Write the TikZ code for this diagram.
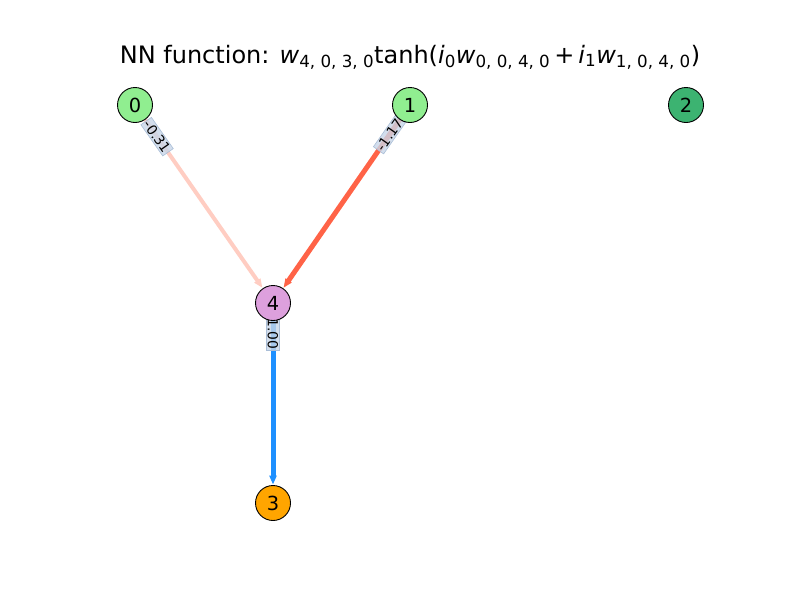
\documentclass[tikz,border=0pt]{standalone}
\usepackage{fontspec}
\setmainfont{DejaVu Sans}
\usetikzlibrary{arrows.meta,calc}
\pgfdeclarelayer{bg}
\pgfsetlayers{bg,main}
\definecolor{lgreen}{HTML}{90EE90}
\definecolor{sgreen}{HTML}{3CB371}
\definecolor{plumc}{HTML}{DDA0DD}
\definecolor{orangec}{HTML}{FFA500}
\definecolor{tomatoc}{HTML}{FF6347}
\definecolor{palec}{RGB}{255,205,194}
\definecolor{bluec}{HTML}{1E90FF}
\definecolor{lblfill}{RGB}{200,214,232}
\definecolor{lbldraw}{RGB}{170,190,215}
\newcommand{\sbs}[1]{\textsubscript{\fontsize{16.7}{17}\selectfont #1}}
\tikzset{
  nn/.style={circle,draw=black,line width=0.9pt,minimum size=35pt,inner sep=0pt,font=\fontsize{19.4}{20}\selectfont},
  conn/.style={-{Triangle[length=9pt,width=7pt]},shorten >=0.5pt},
  lbl/.style={fill=lblfill,draw=lbldraw,line width=0.6pt,inner sep=1.2pt,font=\fontsize{13.8}{14}\selectfont,fill opacity=0.8,text opacity=1}
}
\begin{document}
\begin{tikzpicture}[x=1pt,y=-1pt]
\useasboundingbox (0,0) rectangle (800,600);
\node[font=\fontsize{24}{26}\selectfont] (title) at (410,57) {NN function: \textit{w}\sbs{4, 0, 3, 0}tanh(\textit{i}\sbs{0}\textit{w}\sbs{0, 0, 4, 0}\,+\,\textit{i}\sbs{1}\textit{w}\sbs{1, 0, 4, 0})};
\node[nn,fill=lgreen] (n0) at (135,105) {0};
\node[nn,fill=lgreen] (n1) at (410,105) {1};
\node[nn,fill=sgreen] (n2) at (686,105) {2};
\node[nn,fill=plumc] (n4) at (273,303) {4};
\node[nn,fill=orangec] (n3) at (273,503) {3};
\begin{pgfonlayer}{bg}
\draw[conn,draw=palec,fill=palec,line width=4pt] (n0) -- (n4);
\draw[conn,draw=tomatoc,fill=tomatoc,line width=5pt] (n1) -- (n4);
\draw[conn,draw=bluec,fill=bluec,line width=5pt] (n4) -- (n3);
\node[lbl,rotate=-55] (l04) at ($(n0.center)!0.16!(n4.center)$) {-0.31};
\node[lbl,rotate=55] (l14) at ($(n1.center)!0.15!(n4.center)$) {-1.17};
\node[lbl,rotate=-90] (l43) at ($(n4.center)!0.155!(n3.center)$) {1.00};
\end{pgfonlayer}
\end{tikzpicture}
\end{document}
